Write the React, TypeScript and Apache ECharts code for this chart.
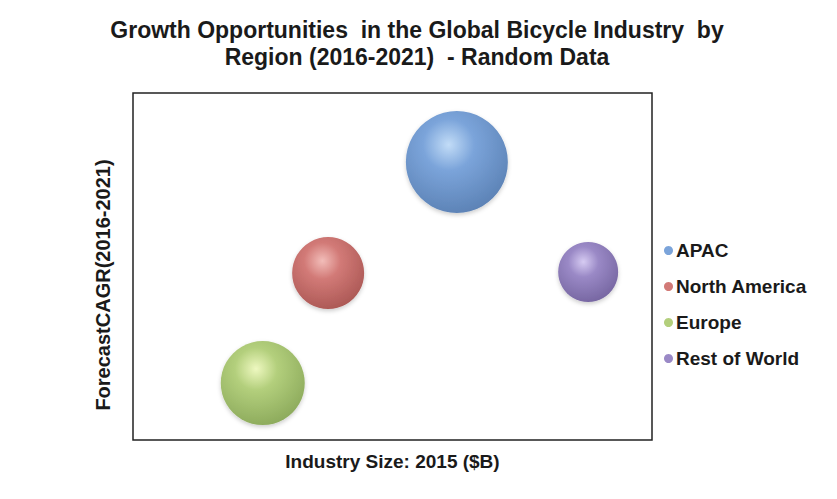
import React, { useEffect, useRef } from "react";
import * as echarts from "echarts";

const regions = ["APAC", "North America", "Europe", "Rest of World"];
const industrySize = [62.4, 37.6, 25.0, 87.7];
const forecastCagr = [80.1, 48.1, 16.4, 48.4];
const bubbleValue = [102, 72, 84, 60];

const baseColors = ["#7ba4da", "#d27a77", "#b3cf7c", "#9a89c6"];
const lightColors = ["#c2dcf7", "#f2bdb9", "#eef8c0", "#d6cbf2"];
const darkColors = ["#5a80b3", "#a95653", "#8aa85a", "#74649f"];

const titleText = "Growth Opportunities  in the Global Bicycle Industry  by\nRegion (2016-2021)  - Random Data";
const xAxisTitle = "Industry Size: 2015 ($B)";
const yAxisTitle = "ForecastCAGR(2016-2021)";

export default function App() {
  const ref = useRef<HTMLDivElement>(null);
  useEffect(() => {
    if (!ref.current) return;
    const chart = echarts.init(ref.current, null, { renderer: "svg" });
    const series = regions.map((name, i) => ({
      name,
      type: "scatter",
      data: [[industrySize[i], forecastCagr[i], bubbleValue[i]]],
      symbolSize: (d: number[]) => d[2],
      itemStyle: {
        color: new echarts.graphic.RadialGradient(0.42, 0.33, 0.72, [
          { offset: 0, color: lightColors[i] },
          { offset: 0.35, color: baseColors[i] },
          { offset: 1, color: darkColors[i] },
        ]),
        shadowBlur: 4,
        shadowColor: "rgba(0,0,0,0.2)",
        shadowOffsetY: 2,
        opacity: 1,
      },
      emphasis: { disabled: true },
    }));
    chart.setOption({
      animation: false,
      backgroundColor: "#ffffff",
      textStyle: { fontFamily: "Liberation Sans, Arial, sans-serif" },
      title: {
        text: titleText,
        left: 412,
        top: 11,
        textAlign: "center",
        textStyle: {
          fontSize: 23,
          fontWeight: "bold",
          color: "#1a1a1a",
          lineHeight: 27,
          fontFamily: "Liberation Sans, Arial, sans-serif",
        },
      },
      legend: {
        orient: "vertical",
        left: 659,
        top: 236,
        itemGap: 17,
        icon: "circle",
        itemWidth: 9,
        itemHeight: 9,
        textStyle: {
          fontSize: 19,
          fontWeight: "bold",
          color: "#1a1a1a",
          padding: [0, 0, 0, -2],
        },
        data: regions.map((name, i) => ({ name, itemStyle: { color: baseColors[i] } })),
      },
      graphic: [
        {
          type: "text",
          x: 103,
          y: 285,
          rotation: Math.PI / 2,
          style: {
            text: yAxisTitle,
            fontSize: 20,
            fontWeight: "bold",
            fill: "#1a1a1a",
            align: "center",
            verticalAlign: "middle",
            fontFamily: "Liberation Sans, Arial, sans-serif",
          },
        },
      ],
      grid: {
        left: 133,
        top: 93,
        width: 519,
        height: 347,
        show: true,
        borderColor: "#222222",
        borderWidth: 1.5,
        backgroundColor: "#ffffff",
      },
      xAxis: {
        type: "value",
        min: 0,
        max: 100,
        name: xAxisTitle,
        nameLocation: "middle",
        nameGap: 12,
        nameTextStyle: { fontSize: 19, fontWeight: "bold", color: "#1a1a1a" },
        axisLine: { show: false },
        axisTick: { show: false },
        axisLabel: { show: false },
        splitLine: { show: false },
      },
      yAxis: {
        type: "value",
        min: 0,
        max: 100,
        axisLine: { show: false },
        axisTick: { show: false },
        axisLabel: { show: false },
        splitLine: { show: false },
      },
      series,
    });
    return () => chart.dispose();
  }, []);
  return (
    <div
      ref={ref}
      style={{ position: "fixed", left: 0, top: 0, width: 837, height: 499, background: "#fff" }}
    />
  );
}
